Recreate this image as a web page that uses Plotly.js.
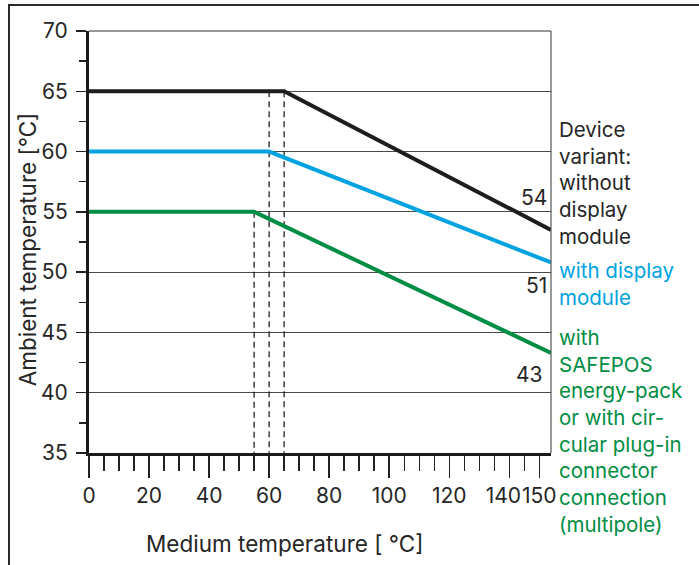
<!DOCTYPE html>
<html>
<head>
<meta charset="utf-8">
<script src="https://cdn.plot.ly/plotly-3.0.1.min.js"></script>
<style>
  html, body { margin: 0; padding: 0; background: #ffffff; }
  #wrap { position: relative; width: 699px; height: 565px; overflow: hidden; }
  #chart { position: absolute; left: 0; top: 0; width: 699px; height: 565px; }
  #frame { position: absolute; left: 8px; top: 4px; width: 900px; height: 900px;
           border: 2px solid #2b2b2b; pointer-events: none; }
</style>
</head>
<body>
<div id="wrap">
  <div id="chart"></div>
  <div id="frame"></div>
</div>
<script>
// ---- data ----
var xEnd = 153.9;                       // right end of the drawn axis
var blackX = [0, 65, xEnd];
var blackY = [65, 65, 53.5];
var blueX  = [0, 60, xEnd];
var blueY  = [60, 60, 50.8];
var greenX = [0, 55, xEnd];
var greenY = [55, 55, 43.3];

var kneeX   = [55, 60, 65];             // dashed guide lines
var dashTop = [55, 65, 65];

var endLabels = ['54', '51', '43'];
var endLabelY = [56.2, 48.9, 41.5];

var xTickVals = [0, 20, 40, 60, 80, 100, 120, 140, 150];
var xTickText = ['0', '20', '40', '60', '80', '100', '120', '140\u00a0\u00a0', '150'];
var yTickVals = [35, 40, 45, 50, 55, 60, 65, 70];

var xTitle = 'Medium temperature [ °C]';
var yTitle = 'Ambient temperature [°C]';

var legendBlack = 'Device<br>variant:<br>without<br>display<br>module';
var legendBlue  = 'with display<br>module';
var legendGreen = 'with<br>SAFEPOS<br>energy-pack<br>or with cir-<br>cular plug-in<br>connector<br>connection<br>(multipole)';

var C_BLACK = '#1d1d1b';
var C_BLUE  = '#00a3e0';
var C_GREEN = '#008d44';
var TXT = '#262626';
var FONT = 'Inter, "Noto Sans", sans-serif';

// build dashed guide trace
var dX = [], dY = [];
for (var i = 0; i < kneeX.length; i++) {
  dX.push(kneeX[i], kneeX[i], null);
  dY.push(dashTop[i], 35, null);
}

var traces = [
  {x: dX, y: dY, mode: 'lines', line: {color: '#111', width: 1.2, dash: '6px,4px'}, hoverinfo: 'skip'},
  {x: greenX, y: greenY, mode: 'lines', line: {color: C_GREEN, width: 4}},
  {x: blueX, y: blueY, mode: 'lines', line: {color: C_BLUE, width: 4}},
  {x: blackX, y: blackY, mode: 'lines', line: {color: C_BLACK, width: 4}}
];

var annotations = [];
for (var j = 0; j < endLabels.length; j++) {
  annotations.push({x: xEnd, y: endLabelY[j], xref: 'x', yref: 'y', text: endLabels[j],
    showarrow: false, xanchor: 'right', yanchor: 'middle', xshift: j === 2 ? -6 : -2,
    font: {family: FONT, size: 21, color: TXT}});
}
annotations.push({x: 1, y: 63.0, xref: 'paper', yref: 'y', text: legendBlack, align: 'left',
  showarrow: false, xanchor: 'left', yanchor: 'top', xshift: 6,
  font: {family: FONT, size: 20.5, color: TXT}});
annotations.push({x: 1, y: 51.3, xref: 'paper', yref: 'y', text: legendBlue, align: 'left',
  showarrow: false, xanchor: 'left', yanchor: 'top', xshift: 6,
  font: {family: FONT, size: 20.5, color: C_BLUE}});
annotations.push({x: 1, y: 45.8, xref: 'paper', yref: 'y', text: legendGreen, align: 'left',
  showarrow: false, xanchor: 'left', yanchor: 'top', xshift: 6,
  font: {family: FONT, size: 20.5, color: C_GREEN}});
// axis titles (placed like the reference, slightly off-centre)
annotations.push({x: 0.424, y: -0.215, xref: 'paper', yref: 'paper', text: xTitle,
  showarrow: false, xanchor: 'center', yanchor: 'middle',
  font: {family: FONT, size: 22.5, color: TXT}});
annotations.push({x: -0.134, y: 0.483, xref: 'paper', yref: 'paper', text: yTitle,
  showarrow: false, xanchor: 'center', yanchor: 'middle', textangle: -90,
  font: {family: FONT, size: 22.5, color: TXT}});

var layout = {
  width: 699, height: 565,
  margin: {l: 89, r: 148, t: 31, b: 112},
  paper_bgcolor: '#ffffff', plot_bgcolor: '#ffffff',
  showlegend: false,
  font: {family: FONT, size: 21, color: TXT},
  xaxis: {
    range: [0, xEnd], tickmode: 'array', tickvals: xTickVals, ticktext: xTickText,
    tickangle: 0, ticks: 'outside', ticklen: 22, tickwidth: 1.4, tickcolor: '#222',
    showgrid: false, zeroline: false, showline: true, linecolor: '#1a1a1a', linewidth: 3,
    tickfont: {family: FONT, size: 21, color: TXT},
    minor: {tick0: 0, dtick: 5, ticks: 'outside', ticklen: 15, tickwidth: 1.4, tickcolor: '#222', showgrid: false},
    fixedrange: true
  },
  yaxis: {
    range: [35, 70], tickmode: 'array', tickvals: yTickVals,
    ticks: 'outside', ticklen: 10, tickwidth: 1.4, tickcolor: '#222',
    showgrid: true, gridcolor: '#4a4a4a', gridwidth: 1,
    zeroline: false, showline: true, linecolor: '#1a1a1a', linewidth: 3,
    tickfont: {family: FONT, size: 21, color: TXT}, ticklabelstandoff: 4,
    minor: {tick0: 35, dtick: 2.5, ticks: 'outside', ticklen: 7, tickwidth: 1.4, tickcolor: '#222', showgrid: false},
    fixedrange: true
  },
  shapes: [
    {type: 'line', xref: 'paper', yref: 'paper', x0: 1, x1: 1, y0: 0, y1: 1, line: {color: '#555', width: 1.2}},
    {type: 'line', xref: 'paper', yref: 'paper', x0: 0, x1: 1, y0: 1, y1: 1, line: {color: '#333', width: 1.2}}
  ],
  annotations: annotations
};

Plotly.newPlot('chart', traces, layout, {displayModeBar: false, staticPlot: true});
</script>
</body>
</html>
